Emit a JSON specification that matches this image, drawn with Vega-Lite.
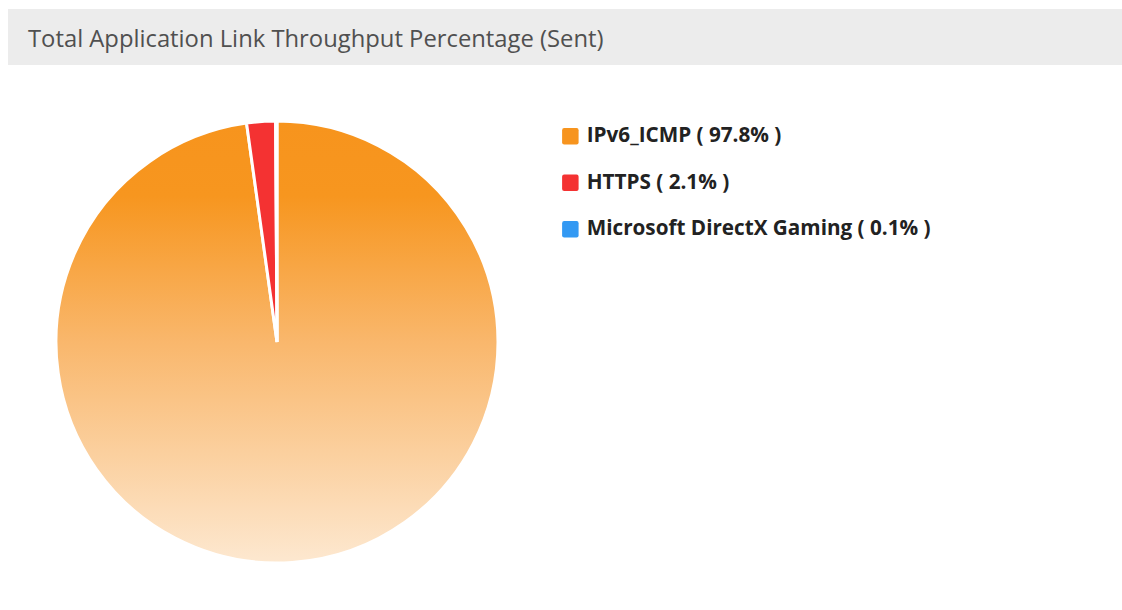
{
  "$schema": "https://vega.github.io/schema/vega-lite/v6.json",
  "background": "white",
  "padding": {"left": 8, "top": 9, "right": 0, "bottom": 0},
  "spacing": 0,
  "config": {"view": {"stroke": null}, "concat": {"spacing": 0}},
  "vconcat": [
    {
      "width": 1114,
      "height": 56,
      "view": {"fill": "#ececec", "stroke": null},
      "title": {
        "text": "Total Application Link Throughput Percentage (Sent)",
        "anchor": "start",
        "orient": "top",
        "frame": "group",
        "baseline": "middle",
        "offset": -55,
        "dx": 20,
        "font": "Open Sans",
        "fontSize": 23.8,
        "fontWeight": "normal",
        "color": "#505050"
      },
      "data": {"values": []},
      "mark": "rule",
      "encoding": {}
    },
    {
      "width": 538,
      "height": 545,
      "data": {
        "values": [
          {"app": "IPv6_ICMP", "pct": 97.8, "label": "IPv6_ICMP ( 97.8% )"},
          {"app": "HTTPS", "pct": 2.1, "label": "HTTPS ( 2.1% )"},
          {"app": "Microsoft DirectX Gaming", "pct": 0.1, "label": "Microsoft DirectX Gaming ( 0.1% )"}
        ]
      },
      "mark": {"type": "arc", "radius": 221, "stroke": "white", "strokeWidth": 3, "yOffset": 4.5},
      "encoding": {
        "theta": {"field": "pct", "type": "quantitative", "stack": true},
        "order": {"field": "pct", "sort": "descending"},
        "color": {
          "field": "label",
          "type": "nominal",
          "scale": {
            "domain": ["IPv6_ICMP ( 97.8% )", "HTTPS ( 2.1% )", "Microsoft DirectX Gaming ( 0.1% )"],
            "range": ["#f7941e", "#f43232", "#3399f3"]
          },
          "legend": {
            "orient": "none",
            "legendX": 552,
            "legendY": 117,
            "title": null,
            "symbolType": "M-0.75,-1H0.75Q1,-1 1,-0.75V0.75Q1,1 0.75,1H-0.75Q-1,1 -1,0.75V-0.75Q-1,-1 -0.75,-1Z",
            "symbolSize": 272,
            "symbolStrokeWidth": 0,
            "symbolOpacity": 1,
            "labelFont": "Open Sans",
            "labelFontSize": 20.7,
            "labelFontWeight": "bold",
            "labelColor": "#222222",
            "labelOffset": 6,
            "labelLimit": 600,
            "rowPadding": 24.5
          },
          "condition": {
            "test": "datum.app === 'IPv6_ICMP'",
            "value": {
              "gradient": "linear",
              "x1": 0, "y1": 0, "x2": 0, "y2": 1,
              "stops": [
                {"offset": 0, "color": "#f7941d"},
                {"offset": 0.17, "color": "#f7961f"},
                {"offset": 0.5, "color": "#f9b76c"},
                {"offset": 1, "color": "#fde8d0"}
              ]
            }
          }
        }
      }
    }
  ]
}
